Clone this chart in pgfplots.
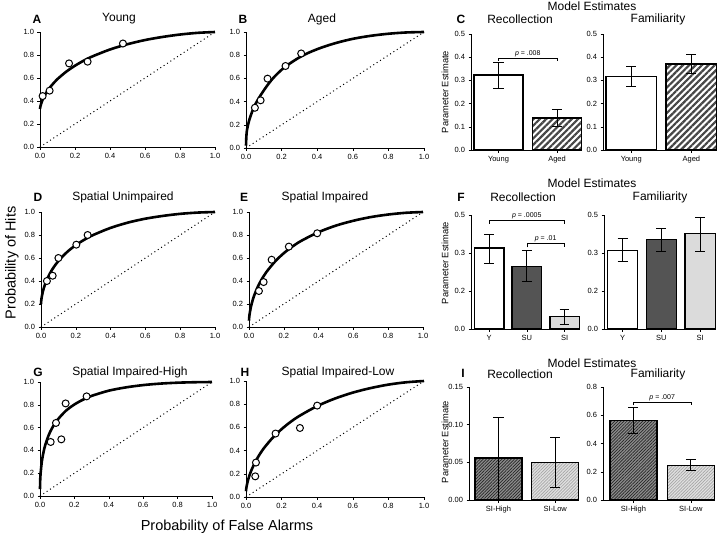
\documentclass[border=0pt]{standalone}
\usepackage{pgfplots}
\pgfplotsset{compat=1.18}
\usepackage{fontspec}
\setmainfont{Liberation Sans}
\usetikzlibrary{patterns.meta}

\pgfplotsset{
 base/.style={scale only axis, anchor=south west, axis lines=left,
   axis line style={-, line width=0.6pt, black}, tick align=outside,
   major tick length=2.5pt, tick style={black, line width=0.5pt},
   tick label style={font=\fontsize{7.5}{8}\selectfont},
   /pgf/number format/assume math mode=true, clip=false, unbounded coords=jump},
 roc/.style={base, xmin=0, xmax=1, ymin=0, ymax=1,
   xtick={0,0.2,0.4,0.6,0.8,1}, ytick={0,0.2,0.4,0.6,0.8,1},
   xticklabels={0.0,0.2,0.4,0.6,0.8,1.0}, yticklabels={0.0,0.2,0.4,0.6,0.8,1.0}},
 fitc/.style={black, line width=2.6pt, smooth, mark=none},
 pts/.style={only marks, mark=*, mark size=3.5pt, mark options={fill=white, draw=black, line width=1pt}},
 chance/.style={black, line width=1pt, dash pattern=on 1pt off 3pt},
 bar/.style={ybar, draw=black, line width=1.4pt, bar shift=0pt},
 brk/.style={black, line width=0.5pt, mark=none},
 eb/.style={black, line width=0.8pt, mark=none},
 hatch/.style={pattern={Lines[angle=45,distance=4.5pt,line width=2.2pt]}, pattern color=black!72},
 xhigh/.style={preaction={fill=black!45}, pattern={Lines[angle=45,distance=2.2pt,line width=0.7pt]}, pattern color=black!85},
 xlow/.style={preaction={fill=black!12}, pattern={Lines[angle=45,distance=2.2pt,line width=0.7pt]}, pattern color=black!35},
}
\tikzset{
 ptxt/.style={above, inner sep=1pt, font=\fontsize{7}{8}\selectfont},
 ttl/.style={font=\fontsize{12}{14}\selectfont, inner sep=0pt},
 let/.style={font=\fontsize{12}{14}\selectfont\bfseries, inner sep=0pt},
 plab/.style={font=\fontsize{9.3}{11}\selectfont, rotate=90, inner sep=0pt},
}

\begin{document}
\begin{tikzpicture}
\useasboundingbox (0pt,0pt) rectangle (720pt,-538pt);

% ---------------- A: Young
\begin{axis}[roc, at={(40pt,-147pt)}, width=175pt, height=115pt]
\addplot[chance] coordinates {(0,0) (1,1)};
\addplot[fitc] coordinates {(0,0.33) (0.001,0.342) (0.003,0.357) (0.01,0.392) (0.02,0.428) (0.03,0.457) (0.05,0.504) (0.07,0.542) (0.1,0.591) (0.15,0.655) (0.2,0.707) (0.25,0.751) (0.3,0.788) (0.4,0.848) (0.5,0.894) (0.6,0.930) (0.7,0.957) (0.8,0.978) (0.9,0.9925) (1,1)};
\addplot[pts] coordinates {(0.015,0.443) (0.055,0.49) (0.166,0.727) (0.272,0.742) (0.474,0.90)};
\end{axis}

% ---------------- B: Aged
\begin{axis}[roc, at={(246pt,-148pt)}, width=178pt, height=116pt]
\addplot[chance] coordinates {(0,0) (1,1)};
\addplot[fitc] coordinates {(0,0.02) (0.002,0.1) (0.005,0.15) (0.01,0.19) (0.02,0.25) (0.035,0.315) (0.05,0.37) (0.08,0.45) (0.12,0.54) (0.16,0.615) (0.22,0.70) (0.31,0.79) (0.4,0.852) (0.5,0.903) (0.6,0.941) (0.7,0.967) (0.8,0.985) (0.9,0.996) (1,1)};
\addplot[pts] coordinates {(0.05,0.347) (0.082,0.411) (0.121,0.598) (0.222,0.707) (0.31,0.815)};
\end{axis}

% ---------------- D: Spatial Unimpaired
\begin{axis}[roc, at={(41pt,-327pt)}, width=174pt, height=115pt]
\addplot[chance] coordinates {(0,0) (1,1)};
\addplot[fitc] coordinates {(0,0.2) (0.001,0.224) (0.003,0.249) (0.01,0.304) (0.02,0.357) (0.03,0.398) (0.05,0.462) (0.07,0.513) (0.1,0.574) (0.15,0.652) (0.2,0.712) (0.25,0.760) (0.3,0.800) (0.4,0.862) (0.5,0.908) (0.6,0.942) (0.7,0.966) (0.8,0.984) (0.9,0.995) (1,1)};
\addplot[pts] coordinates {(0.034,0.40) (0.067,0.446) (0.10,0.60) (0.203,0.716) (0.268,0.80)};
\end{axis}

% ---------------- E: Spatial Impaired
\begin{axis}[roc, at={(249pt,-327pt)}, width=174pt, height=115pt]
\addplot[chance] coordinates {(0,0) (1,1)};
\addplot[fitc] coordinates {(0,0.055) (0.001,0.080) (0.003,0.107) (0.01,0.168) (0.02,0.228) (0.03,0.275) (0.05,0.348) (0.07,0.407) (0.1,0.478) (0.15,0.570) (0.2,0.642) (0.25,0.700) (0.3,0.749) (0.4,0.825) (0.5,0.882) (0.6,0.924) (0.7,0.956) (0.8,0.978) (0.9,0.993) (1,1)};
\addplot[pts] coordinates {(0.057,0.313) (0.084,0.391) (0.13,0.585) (0.229,0.699) (0.392,0.815)};
\end{axis}

% ---------------- G: Spatial Impaired-High
\begin{axis}[roc, at={(40pt,-496pt)}, width=172pt, height=114pt]
\addplot[chance] coordinates {(0,0) (1,1)};
\addplot[fitc] coordinates {(0,0.06) (0.001,0.130) (0.003,0.188) (0.01,0.295) (0.02,0.382) (0.03,0.444) (0.05,0.532) (0.07,0.595) (0.1,0.665) (0.15,0.747) (0.2,0.803) (0.25,0.845) (0.3,0.878) (0.4,0.924) (0.5,0.953) (0.6,0.973) (0.7,0.986) (0.8,0.994) (0.9,0.998) (1,1)};
\addplot[pts] coordinates {(0.062,0.474) (0.124,0.497) (0.093,0.641) (0.149,0.812) (0.271,0.874)};
\end{axis}

% ---------------- H: Spatial Impaired-Low
\begin{axis}[roc, at={(246pt,-497pt)}, width=178pt, height=116pt]
\addplot[chance] coordinates {(0,0) (1,1)};
\addplot[fitc] coordinates {(0,0.05) (0.001,0.067) (0.003,0.088) (0.01,0.138) (0.02,0.189) (0.03,0.230) (0.05,0.296) (0.07,0.351) (0.1,0.420) (0.15,0.511) (0.2,0.585) (0.25,0.647) (0.3,0.699) (0.4,0.784) (0.5,0.849) (0.6,0.900) (0.7,0.939) (0.8,0.969) (0.9,0.989) (1,1)};
\addplot[pts] coordinates {(0.052,0.178) (0.056,0.297) (0.166,0.547) (0.303,0.595) (0.40,0.788)};
\end{axis}

% ---------------- C: Recollection
\begin{axis}[base, at={(471pt,-150pt)}, width=110pt, height=116pt,
  xmin=-0.47, xmax=1.41, ymin=0, ymax=0.5,
  ytick={0,0.1,0.2,0.3,0.4,0.5}, yticklabels={0.0,0.1,0.2,0.3,0.4,0.5},
  xtick={0,1}, xticklabels={Young,Aged}]
\addplot[bar, bar width=0.84, fill=white] coordinates {(0,0.324)};
\addplot[bar, bar width=0.84, hatch] coordinates {(1,0.138)};
\addplot[eb] coordinates {(0,0.267) (0,0.378) (0,nan) (-0.086,0.378) (0.086,0.378) (0,nan) (-0.086,0.267) (0.086,0.267) (0,nan)
  (1,0.101) (1,0.176) (1,nan) (0.914,0.176) (1.086,0.176) (1,nan) (0.914,0.101) (1.086,0.101)};
\addplot[brk] coordinates {(0,0.385) (0,0.397) (1,0.397) (1,0.385)};
\node[ptxt] at (axis cs:0.5,0.397) {\textit{p} = .008};
\end{axis}

% ---------------- C: Familiarity
\begin{axis}[base, at={(603pt,-150pt)}, width=113pt, height=116pt,
  xmin=-0.47, xmax=1.41, ymin=0, ymax=0.5,
  ytick={0,0.1,0.2,0.3,0.4,0.5}, yticklabels={0.0,0.1,0.2,0.3,0.4,0.5},
  xtick={0,1}, xticklabels={Young,Aged}]
\addplot[bar, bar width=0.84, fill=white] coordinates {(0,0.318)};
\addplot[bar, bar width=0.84, hatch] coordinates {(1,0.37)};
\addplot[eb] coordinates {(0,0.274) (0,0.36) (0,nan) (-0.083,0.36) (0.083,0.36) (0,nan) (-0.083,0.274) (0.083,0.274) (0,nan)
  (1,0.331) (1,0.41) (1,nan) (0.917,0.41) (1.083,0.41) (1,nan) (0.917,0.331) (1.083,0.331)};
\end{axis}

% ---------------- F: Recollection
\begin{axis}[base, at={(471pt,-329pt)}, width=109pt, height=114pt,
  xmin=-0.48, xmax=2.41, ymin=0, ymax=0.45,
  ytick={0,0.15,0.3,0.45}, yticklabels={0.0,0.2,0.3,0.5},
  xtick={0,1,2}, xticklabels={Y,SU,SI}]
\addplot[bar, bar width=0.78, fill=white] coordinates {(0,0.32)};
\addplot[bar, bar width=0.78, fill=black!67] coordinates {(1,0.247)};
\addplot[bar, bar width=0.78, fill=black!14] coordinates {(2,0.049)};
\addplot[eb] coordinates {(0,0.26) (0,0.373) (0,nan) (-0.13,0.373) (0.13,0.373) (0,nan) (-0.13,0.26) (0.13,0.26) (0,nan)
  (1,0.188) (1,0.31) (1,nan) (0.87,0.31) (1.13,0.31) (1,nan) (0.87,0.188) (1.13,0.188) (1,nan)
  (2,0.02) (2,0.079) (2,nan) (1.87,0.079) (2.13,0.079) (2,nan) (1.87,0.02) (2.13,0.02)};
\addplot[brk] coordinates {(0,0.415) (0,0.43) (2,0.43) (2,0.415)};
\node[ptxt] at (axis cs:1,0.43) {\textit{p} = .0005};
\addplot[brk] coordinates {(1,0.322) (1,0.337) (2,0.337) (2,0.322)};
\node[ptxt] at (axis cs:1.5,0.337) {\textit{p} = .01};
\end{axis}

% ---------------- F: Familiarity
\begin{axis}[base, at={(604pt,-329pt)}, width=112pt, height=114pt,
  xmin=-0.48, xmax=2.41, ymin=0, ymax=0.45,
  ytick={0,0.15,0.3,0.45}, yticklabels={0.0,0.2,0.3,0.5},
  xtick={0,1,2}, xticklabels={Y,SU,SI}]
\addplot[bar, bar width=0.78, fill=white] coordinates {(0,0.311)};
\addplot[bar, bar width=0.78, fill=black!67] coordinates {(1,0.353)};
\addplot[bar, bar width=0.78, fill=black!14] coordinates {(2,0.376)};
\addplot[eb] coordinates {(0,0.267) (0,0.356) (0,nan) (-0.13,0.356) (0.13,0.356) (0,nan) (-0.13,0.267) (0.13,0.267) (0,nan)
  (1,0.307) (1,0.397) (1,nan) (0.87,0.397) (1.13,0.397) (1,nan) (0.87,0.307) (1.13,0.307) (1,nan)
  (2,0.307) (2,0.439) (2,nan) (1.87,0.439) (2.13,0.439) (2,nan) (1.87,0.307) (2.13,0.307)};
\end{axis}

% ---------------- I: Recollection
\begin{axis}[base, at={(469pt,-500pt)}, width=110pt, height=113pt,
  xmin=-0.52, xmax=1.42, ymin=0, ymax=0.15,
  ytick={0,0.05,0.1,0.15}, yticklabels={0.00,0.05,0.10,0.15},
  xtick={0,1}, xticklabels={SI-High,SI-Low}]
\addplot[bar, bar width=0.83, xhigh] coordinates {(0,0.056)};
\addplot[bar, bar width=0.83, xlow] coordinates {(1,0.050)};
\addplot[eb] coordinates {(0,0.0) (0,0.110) (0,nan) (-0.089,0.110) (0.089,0.110) (0,nan)
  (1,0.017) (1,0.083) (1,nan) (0.911,0.083) (1.089,0.083) (1,nan) (0.911,0.017) (1.089,0.017)};
\end{axis}

% ---------------- I: Familiarity
\begin{axis}[base, at={(603pt,-500pt)}, width=112pt, height=113pt,
  xmin=-0.53, xmax=1.42, ymin=0, ymax=0.8,
  ytick={0,0.2,0.4,0.6,0.8}, yticklabels={0.0,0.2,0.4,0.6,0.8},
  xtick={0,1}, xticklabels={SI-High,SI-Low}]
\addplot[bar, bar width=0.82, xhigh] coordinates {(0,0.565)};
\addplot[bar, bar width=0.82, xlow] coordinates {(1,0.245)};
\addplot[eb] coordinates {(0,0.47) (0,0.654) (0,nan) (-0.087,0.654) (0.087,0.654) (0,nan) (-0.087,0.47) (0.087,0.47) (0,nan)
  (1,0.207) (1,0.287) (1,nan) (0.913,0.287) (1.087,0.287) (1,nan) (0.913,0.207) (1.087,0.207)};
\addplot[brk] coordinates {(0,0.67) (0,0.69) (1,0.69) (1,0.67)};
\node[ptxt] at (axis cs:0.5,0.69) {\textit{p} = .007};
\end{axis}

% ---------------- texts
\node[let] at (37pt,-19pt) {A};
\node[ttl] at (119pt,-19pt) {Young};
\node[let] at (243pt,-19pt) {B};
\node[ttl] at (322pt,-19pt) {Aged};
\node[let] at (38pt,-197pt) {D};
\node[ttl] at (123pt,-197pt) {Spatial Unimpaired};
\node[let] at (244pt,-197pt) {E};
\node[ttl] at (325pt,-197pt) {Spatial Impaired};
\node[let] at (38pt,-372pt) {G};
\node[ttl] at (130pt,-372pt) {Spatial Impaired-High};
\node[let] at (245pt,-372pt) {H};
\node[ttl] at (338pt,-372pt) {Spatial Impaired-Low};

\node[ttl] at (592pt,-6pt) {Model Estimates};
\node[let] at (461pt,-19pt) {C};
\node[ttl] at (520pt,-19pt) {Recollection};
\node[ttl] at (658pt,-19pt) {Familiarity};
\node[ttl] at (592pt,-183pt) {Model Estimates};
\node[let] at (461pt,-197pt) {F};
\node[ttl] at (523pt,-197pt) {Recollection};
\node[ttl] at (660pt,-197pt) {Familiarity};
\node[ttl] at (592pt,-363pt) {Model Estimates};
\node[let] at (463pt,-373pt) {I};
\node[ttl] at (520pt,-374pt) {Recollection};
\node[ttl] at (658pt,-374pt) {Familiarity};

\node[plab] at (445pt,-92pt) {Parameter Estimate};
\node[plab] at (445pt,-263pt) {Parameter Estimate};
\node[plab] at (445pt,-442pt) {Parameter Estimate};

\node[font=\fontsize{14.5}{16}\selectfont, inner sep=0pt] at (227pt,-527pt) {Probability of False Alarms};
\node[font=\fontsize{14.5}{16}\selectfont, rotate=90, inner sep=0pt] at (12pt,-263pt) {Probability of Hits};
\end{tikzpicture}
\end{document}
